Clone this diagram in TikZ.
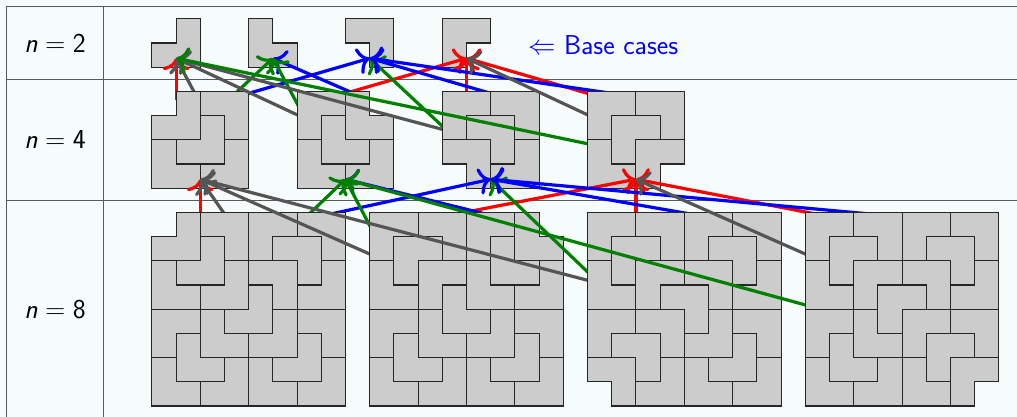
\documentclass[tikz,border=0pt]{standalone}
\usepackage{fontspec}
\usetikzlibrary{arrows.meta}

\definecolor{pagebg}{RGB}{246,252,252}
\definecolor{tilefill}{RGB}{204,204,204}
\definecolor{arrgreen}{RGB}{0,128,0}
\definecolor{arrgrey}{RGB}{85,85,85}
\definecolor{rulegrey}{RGB}{90,90,90}

\tikzset{
  tri/.style={fill=tilefill, draw=black!85, line width=0.8pt},
  rim/.style={line width=0.86pt},
  link/.style={line width=2.4pt, -{To[length=9pt,width=20pt]}},
  rule/.style={draw=rulegrey, line width=0.8pt},
  rowlabel/.style={font=\fontsize{20.5}{24}\selectfont\sffamily, inner sep=0pt},
}

% one L-tromino: #1,#2 = top-left corner of its 2x2 block (y counted downwards),
% #3 = the empty cell of the block (0 = top left, 1 = top right, 2 = bottom left, 3 = bottom right)
\newcommand\trom[3]{%
  \ifcase#3
    \path[tri] ({#1+1},{-(#2)}) -- ({#1+2},{-(#2)}) -- ({#1+2},{-(#2)-2}) -- ({#1},{-(#2)-2}) -- ({#1},{-(#2)-1}) -- ({#1+1},{-(#2)-1}) -- cycle;
  \or
    \path[tri] ({#1},{-(#2)}) -- ({#1+1},{-(#2)}) -- ({#1+1},{-(#2)-1}) -- ({#1+2},{-(#2)-1}) -- ({#1+2},{-(#2)-2}) -- ({#1},{-(#2)-2}) -- cycle;
  \or
    \path[tri] ({#1},{-(#2)}) -- ({#1+2},{-(#2)}) -- ({#1+2},{-(#2)-2}) -- ({#1+1},{-(#2)-2}) -- ({#1+1},{-(#2)-1}) -- ({#1},{-(#2)-1}) -- cycle;
  \or
    \path[tri] ({#1},{-(#2)}) -- ({#1+2},{-(#2)}) -- ({#1+2},{-(#2)-1}) -- ({#1+1},{-(#2)-1}) -- ({#1+1},{-(#2)-2}) -- ({#1},{-(#2)-2}) -- cycle;
  \fi}

% recursive tromino tiling of a #3 x #3 square with corner #4 removed
\newcommand\tileset[4]{%
  \ifnum#3=2
    \trom{#1}{#2}{#4}%
  \else
    \begingroup
      \pgfmathtruncatemacro\hh{#3/2}%
      \pgfmathsetmacro\xm{#1+\hh}%
      \pgfmathsetmacro\ym{#2+\hh}%
      \pgfmathsetmacro\xc{#1+\hh-1}%
      \pgfmathsetmacro\yc{#2+\hh-1}%
      \trom{\xc}{\yc}{#4}%
      \edef\next{%
        \noexpand\tileset{#1}{#2}{\hh}{\ifnum#4=0 0\else 3\fi}%
        \noexpand\tileset{\xm}{#2}{\hh}{\ifnum#4=1 1\else 2\fi}%
        \noexpand\tileset{#1}{\ym}{\hh}{\ifnum#4=2 2\else 1\fi}%
        \noexpand\tileset{\xm}{\ym}{\hh}{\ifnum#4=3 3\else 0\fi}}%
      \next
    \endgroup
  \fi}

% coloured outer border of the four quadrants (laid under the tiles)
\newcommand\rims[4]{%
  \begingroup
    \pgfmathsetmacro\hh{#3/2}%
    \def\xt{#1}%
    \pgfmathsetmacro\xa{#1+1}\pgfmathsetmacro\xh{#1+\hh}%
    \pgfmathsetmacro\xb{#1+#3-1}\pgfmathsetmacro\xe{#1+#3}%
    \pgfmathsetmacro\yt{-(#2)}\pgfmathsetmacro\ya{-(#2)-1}\pgfmathsetmacro\yh{-(#2)-\hh}%
    \pgfmathsetmacro\yb{-(#2)-#3+1}\pgfmathsetmacro\ye{-(#2)-#3}%
    \ifnum#4=0 \draw[rim,red] (\xt,\yh) -- (\xt,\ya) -- (\xa,\ya) -- (\xa,\yt) -- (\xh,\yt);
    \else \draw[rim,red] (\xt,\yh) -- (\xt,\yt) -- (\xh,\yt); \fi
    \ifnum#4=1 \draw[rim,blue] (\xh,\yt) -- (\xb,\yt) -- (\xb,\ya) -- (\xe,\ya) -- (\xe,\yh);
    \else \draw[rim,blue] (\xh,\yt) -- (\xe,\yt) -- (\xe,\yh); \fi
    \ifnum#4=2 \draw[rim,arrgreen] (\xt,\yh) -- (\xt,\yb) -- (\xa,\yb) -- (\xa,\ye) -- (\xh,\ye);
    \else \draw[rim,arrgreen] (\xt,\yh) -- (\xt,\ye) -- (\xh,\ye); \fi
    \ifnum#4=3 \draw[rim,arrgrey] (\xh,\ye) -- (\xb,\ye) -- (\xb,\yb) -- (\xe,\yb) -- (\xe,\yh);
    \else \draw[rim,arrgrey] (\xh,\ye) -- (\xe,\ye) -- (\xe,\yh); \fi
  \endgroup}

% arrows from the four quadrants of a tiling to the smaller tilings they use
\newcommand\links[6]{%
  \draw[link,red] (#1-TL) -- (#2-#3);
  \draw[link,blue] (#1-TR) -- (#2-#4);
  \draw[link,arrgreen] (#1-BL) -- (#2-#5);
  \draw[link,arrgrey] (#1-BR) -- (#2-#6);}

\begin{document}
\begin{tikzpicture}[x=18.15pt,y=18.15pt]
  \useasboundingbox (0,0) rectangle (42.025,-17.231);
  \fill[pagebg] (0,0) rectangle (42.025,-17.231);

  % table
  \draw[rule] (0.277,-17.5) -- (0.277,-0.277) -- (42.3,-0.277);
  \draw[rule] (4.277,-0.277) -- (4.277,-17.5);
  \draw[rule] (0.277,-3.277) -- (42.3,-3.277);
  \draw[rule] (0.277,-8.277) -- (42.3,-8.277);

  \node[rowlabel] (lab2) at (2.277,-1.777) {$\textsf{\itshape n} = \textsf{2}$};
  \node[rowlabel] (lab4) at (2.277,-5.777) {$\textsf{\itshape n} = \textsf{4}$};
  \node[rowlabel] (lab8) at (2.277,-12.777) {$\textsf{\itshape n} = \textsf{8}$};
  \node[rowlabel, text=blue, anchor=west] (basecases) at (21.8,-1.85) {$\Leftarrow$ Base cases};

  % anchor points: arrow targets (t) and quadrant tops (q), each set a little inside the tiling
  \foreach \k in {1,...,4} {
    \pgfmathsetmacro\sx{6.277+4*(\k-1)}
    \coordinate (t2-\k) at (\sx+1,-2.407);
    \pgfmathsetmacro\sx{6.277+6*(\k-1)}
    \coordinate (t4-\k) at (\sx+2,-7.407);
    \coordinate (q4-\k-TL) at (\sx+1,-4.147);
    \coordinate (q4-\k-TR) at (\sx+3,-4.147);
    \coordinate (q4-\k-BL) at (\sx+1,-6.147);
    \coordinate (q4-\k-BR) at (\sx+3,-6.147);
    \pgfmathsetmacro\sx{6.277+9*(\k-1)}
    \coordinate (q8-\k-TL) at (\sx+2,-9.147);
    \coordinate (q8-\k-TR) at (\sx+6,-9.147);
    \coordinate (q8-\k-BL) at (\sx+2,-13.147);
    \coordinate (q8-\k-BR) at (\sx+6,-13.147);
  }

  % n = 2: base cases
  \tileset{6.277}{0.777}{2}{0}
  \tileset{10.277}{0.777}{2}{1}
  \tileset{14.277}{0.777}{2}{2}
  \tileset{18.277}{0.777}{2}{3}

  % n = 4
  \links{q4-1}{t2}{1}{3}{2}{1}
  \rims{6.277}{3.777}{4}{0}   \tileset{6.277}{3.777}{4}{0}
  \links{q4-2}{t2}{4}{2}{2}{1}
  \rims{12.277}{3.777}{4}{1}  \tileset{12.277}{3.777}{4}{1}
  \links{q4-3}{t2}{4}{3}{3}{1}
  \rims{18.277}{3.777}{4}{2}  \tileset{18.277}{3.777}{4}{2}
  \links{q4-4}{t2}{4}{3}{1}{4}
  \rims{24.277}{3.777}{4}{3}  \tileset{24.277}{3.777}{4}{3}

  % n = 8
  \links{q8-1}{t4}{1}{3}{2}{1}
  \rims{6.277}{8.777}{8}{0}   \tileset{6.277}{8.777}{8}{0}
  \links{q8-2}{t4}{4}{2}{2}{1}
  \rims{15.277}{8.777}{8}{1}  \tileset{15.277}{8.777}{8}{1}
  \links{q8-3}{t4}{4}{3}{3}{1}
  \rims{24.277}{8.777}{8}{2}  \tileset{24.277}{8.777}{8}{2}
  \links{q8-4}{t4}{4}{3}{2}{4}
  \rims{33.277}{8.777}{8}{3}  \tileset{33.277}{8.777}{8}{3}
\end{tikzpicture}
\end{document}
